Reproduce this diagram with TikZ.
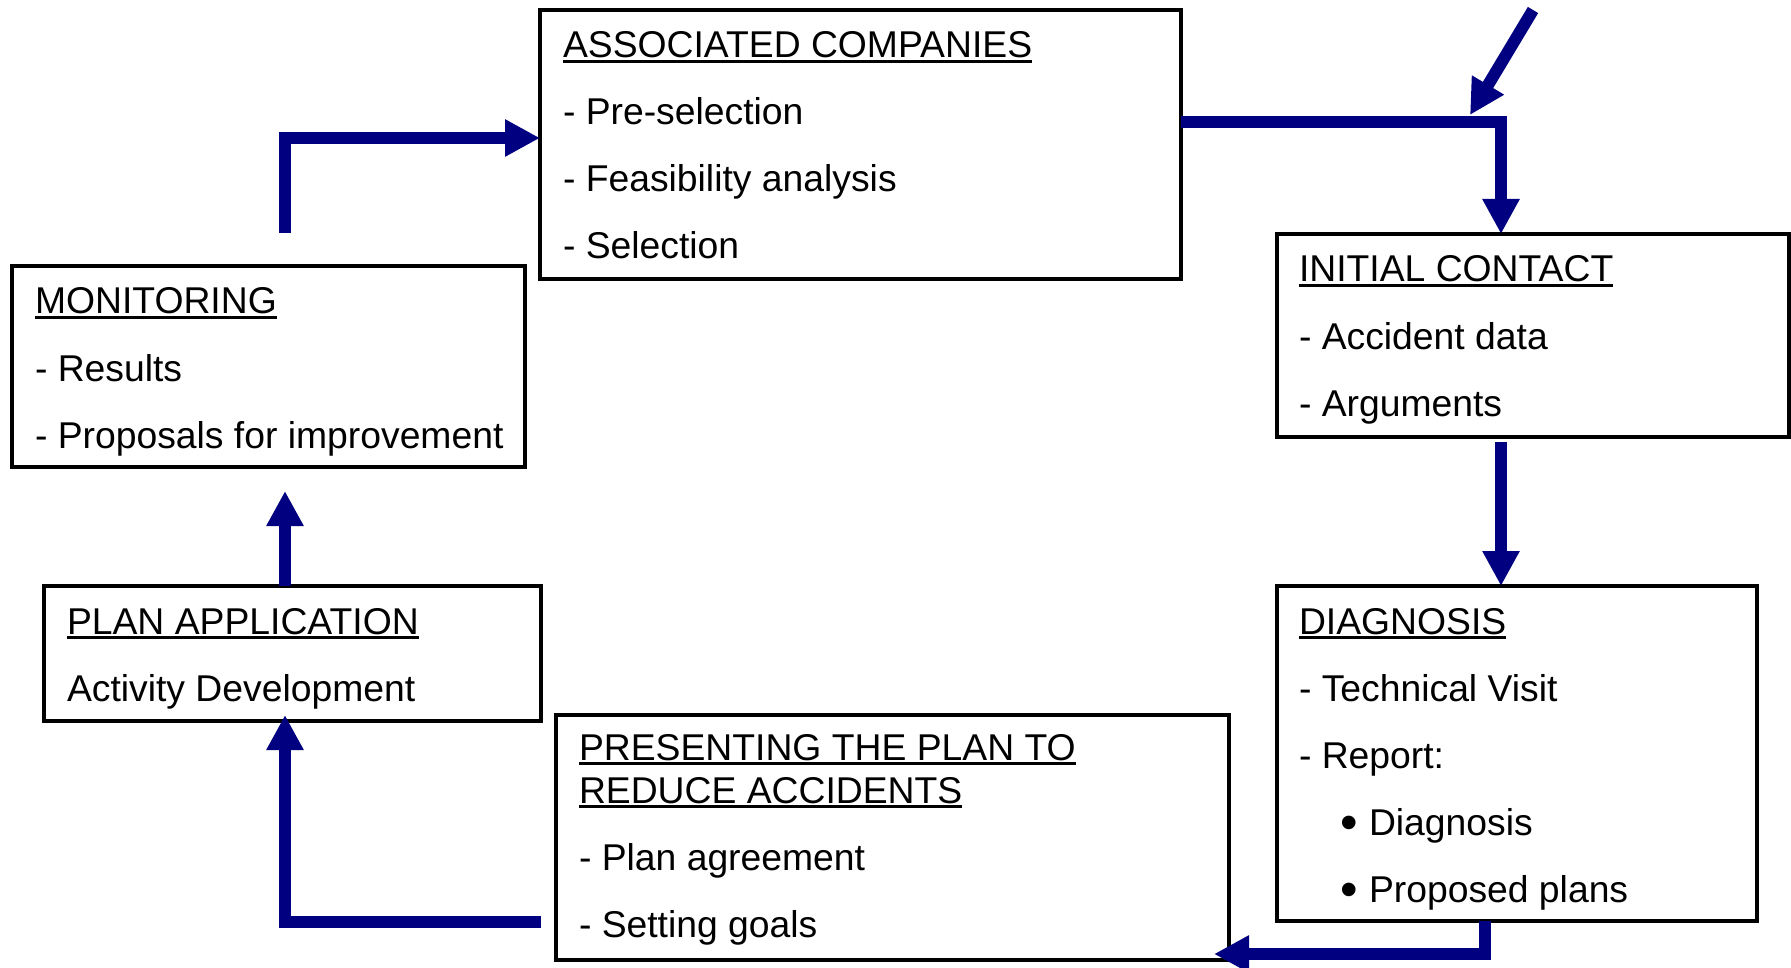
\documentclass[tikz,border=0pt]{standalone}
\usepackage{fontspec}
\setmainfont{Liberation Sans}
\usetikzlibrary{arrows.meta,calc}
\newcommand\ulx[1]{\setbox0\hbox{#1}\rlap{\rule[-5pt]{\wd0}{2.8pt}}\box0}
\newcommand\bigbul{\makebox[29pt][l]{\raisebox{-4.5pt}{\fontsize{50}{50}\selectfont\textbullet}}}
\definecolor{arrnavy}{RGB}{0,0,128}
\begin{document}
\begin{tikzpicture}[x=1pt,y=-1pt,
  box/.style={draw=black,line width=4pt,rectangle,inner sep=0pt,outer sep=0pt,anchor=north west},
  txt/.style={anchor=base west,inner sep=0pt,outer sep=0pt,font=\fontsize{37.3}{43}\selectfont},
  arr/.style={draw=arrnavy,line width=12pt,-{Triangle[length=35pt,width=35pt]}}]
\useasboundingbox (0,0) rectangle (1791,968);
% boxes
\node[box,minimum width=641pt,minimum height=269pt] (A) at (540,10) {};
\node[box,minimum width=512pt,minimum height=203pt] (IC) at (1277,234) {};
\node[box,minimum width=480pt,minimum height=335pt] (D) at (1277,586) {};
\node[box,minimum width=673pt,minimum height=245pt] (P) at (556,715) {};
\node[box,minimum width=497pt,minimum height=135pt] (PA) at (44,586) {};
\node[box,minimum width=513pt,minimum height=201pt] (M) at (12,266) {};
% texts: ASSOCIATED COMPANIES
\node[txt] at (563,58) {\ulx{ASSOCIATED COMPANIES}};
\node[txt] at (563,125) {- Pre-selection};
\node[txt] at (563,192) {- Feasibility analysis};
\node[txt] at (563,259) {- Selection};
% INITIAL CONTACT
\node[txt] at (1299,282) {\ulx{INITIAL CONTACT}};
\node[txt] at (1299,349) {- Accident data};
\node[txt] at (1299,416) {- Arguments};
% DIAGNOSIS
\node[txt] at (1299,634) {\ulx{DIAGNOSIS}};
\node[txt] at (1299,701) {- Technical Visit};
\node[txt] at (1299,768) {- Report:};
\node[txt] at (1340,835) {\bigbul Diagnosis};
\node[txt] at (1340,902) {\bigbul Proposed plans};
% PRESENTING
\node[txt] at (579,760) {\ulx{PRESENTING THE PLAN TO}};
\node[txt] at (579,803) {\ulx{REDUCE ACCIDENTS}};
\node[txt] at (579,870) {- Plan agreement};
\node[txt] at (579,937) {- Setting goals};
% PLAN APPLICATION
\node[txt] at (67,634) {\ulx{PLAN APPLICATION}};
\node[txt] at (67,701) {Activity Development};
% MONITORING
\node[txt] at (35,314) {\ulx{MONITORING}};
\node[txt] at (35,381) {- Results};
\node[txt] at (35,448) {- Proposals for improvement};
% free ends
\coordinate (m1) at (285,233);
\coordinate (s) at (1533,10);
\coordinate (j) at (1470,115);
% connectors
\draw[arr] (m1) |- ($(A.north west)+(0,128)$);
\draw[arr] ($(A.north east)+(0,112)$) -| ($(IC.north west)+(224,0)$);
\draw[arr] (s) -- (j);
\draw[arr] ($(IC.south west)+(224,5)$) -- ($(D.north west)+(224,0)$);
\draw[arr] ($(D.south west)+(208,0)$) |- ($(P.south east)+(-15,-6)$);
\draw[arr] ($(P.south west)+(-15,-38)$) -| ($(PA.south west)+(241,-6)$);
\draw[arr] ($(PA.north west)+(241,0)$) -- ($(M.south west)+(273,24)$);
\end{tikzpicture}
\end{document}
